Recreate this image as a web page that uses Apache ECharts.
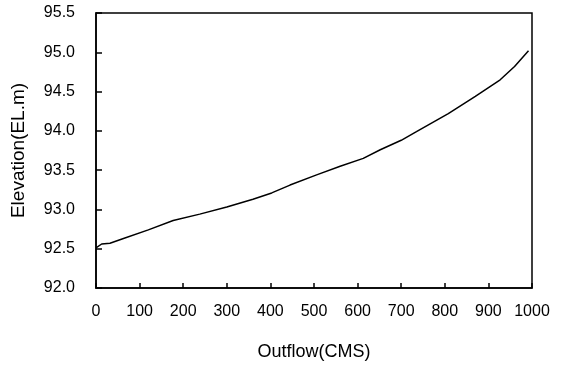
<!DOCTYPE html>
<html>
<head>
<meta charset="utf-8">
<script src="https://cdn.jsdelivr.net/npm/echarts@6/dist/echarts.min.js"></script>
<style>
  html, body { margin: 0; padding: 0; background: #fff; }
  #chart { width: 562px; height: 366px; }
</style>
</head>
<body>
<div id="chart"></div>
<script>
// outflow (CMS) vs elevation (EL.m)
const outflow = [0, 13, 32, 63, 120, 177, 238, 300, 360, 403, 445, 506, 560, 613, 652, 700, 735, 808, 870, 927, 960, 992];
const elevation = [92.51, 92.56, 92.57, 92.63, 92.74, 92.86, 92.94, 93.03, 93.13, 93.21, 93.31, 93.44, 93.55, 93.65, 93.76, 93.88, 93.99, 94.22, 94.44, 94.65, 94.82, 95.02];

const xTicks = [0, 1000, 100];   // min, max, step
const yTicks = [92.0, 95.5, 0.5];

const points = outflow.map((x, i) => [x, elevation[i]]);

const myChart = echarts.init(document.getElementById('chart'));
const font = 'Liberation Sans, Arial, sans-serif';

const option = {
  backgroundColor: '#fff',
  animation: false,
  grid: {
    left: 96,
    right: 30,
    top: 13,
    bottom: 78,
    show: true,
    borderColor: '#000',
    borderWidth: 1.5
  },
  xAxis: {
    type: 'value',
    min: xTicks[0],
    max: xTicks[1],
    interval: xTicks[2],
    name: 'Outflow(CMS)',
    nameLocation: 'middle',
    nameGap: 55,
    nameTextStyle: { fontFamily: font, fontSize: 18, color: '#000' },
    axisLine: { show: true, lineStyle: { color: '#000', width: 1.5 } },
    axisTick: { show: true, inside: true, length: 5, lineStyle: { color: '#000', width: 1.5 } },
    axisLabel: {
      margin: 16,
      fontFamily: font,
      fontSize: 16,
      color: '#000',
      formatter: function (v) { return String(v); }
    },
    splitLine: { show: false }
  },
  yAxis: {
    type: 'value',
    min: yTicks[0],
    max: yTicks[1],
    interval: yTicks[2],
    name: 'Elevation(EL.m)',
    nameLocation: 'middle',
    nameGap: 68,
    nameTextStyle: { fontFamily: font, fontSize: 19, color: '#000' },
    axisLine: { show: true, lineStyle: { color: '#000', width: 1.5 } },
    axisTick: { show: true, inside: true, length: 6, lineStyle: { color: '#000', width: 1.5 } },
    axisLabel: {
      margin: 21,
      fontFamily: font,
      fontSize: 16,
      color: '#000',
      formatter: function (v) { return v.toFixed(1); }
    },
    splitLine: { show: false }
  },
  series: [
    {
      type: 'line',
      data: points,
      symbol: 'none',
      smooth: false,
      lineStyle: { color: '#000', width: 1.5 }
    }
  ]
};
myChart.setOption(option, true);
</script>
</body>
</html>
